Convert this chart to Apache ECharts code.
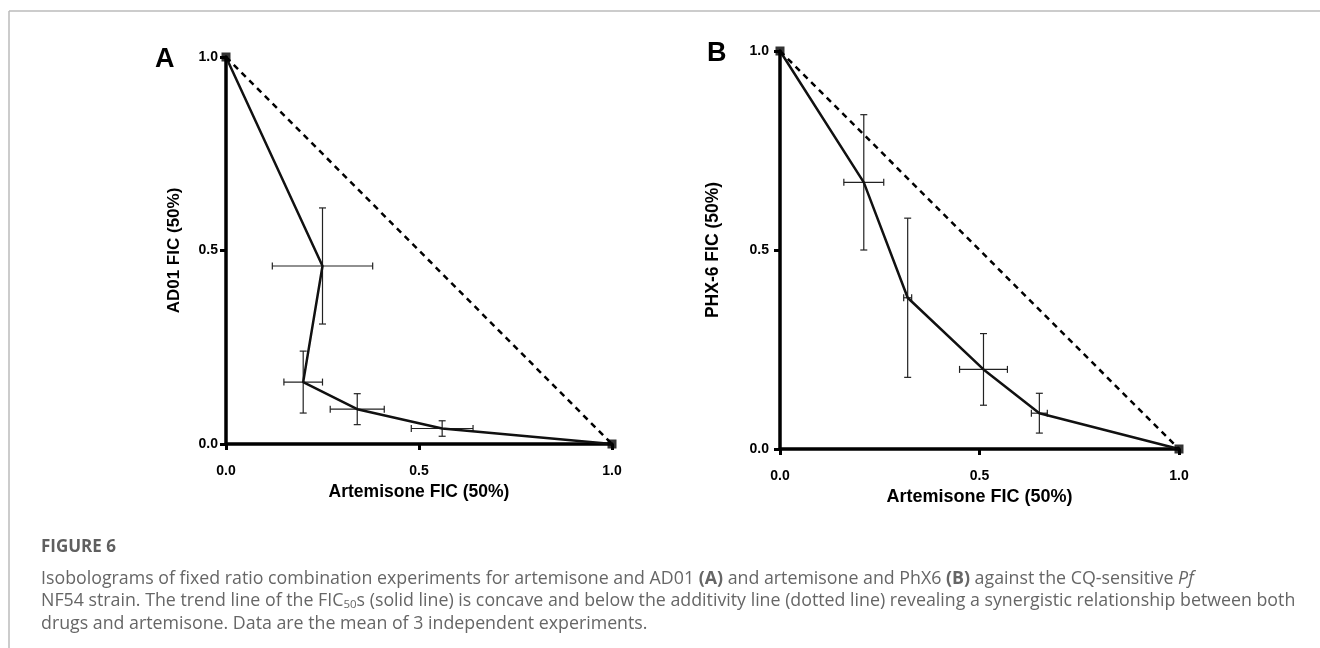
<!DOCTYPE html>
<html>
<head>
<meta charset="utf-8">
<script src="https://cdn.jsdelivr.net/npm/echarts@6/dist/echarts.min.js"></script>
<style>
html, body { margin: 0; padding: 0; background: #fff; }
#main { width: 1320px; height: 648px; }
</style>
</head>
<body>
<div id="main"></div>
<script>
// tick values shared by both panels
var tickVals = [0, 0.5, 1];

// panel A: artemisone + AD01 (mean FIC50, +/- error)
var aX = [0, 0.25, 0.20, 0.34, 0.56, 1];
var aY = [1, 0.46, 0.16, 0.09, 0.04, 0];
var aXErr = [0, 0.13, 0.05, 0.07, 0.08, 0];
var aYErr = [0, 0.15, 0.08, 0.04, 0.02, 0];

// panel B: artemisone + PHX-6
var bX = [0, 0.21, 0.32, 0.51, 0.65, 1];
var bY = [1, 0.67, 0.38, 0.20, 0.09, 0];
var bXErr = [0, 0.05, 0.01, 0.06, 0.02, 0];
var bYErr = [0, 0.17, 0.20, 0.09, 0.05, 0];

// additivity line
var addX = [0, 1];
var addY = [1, 0];

var font = "'Liberation Sans', Arial, sans-serif";
var capFont = "'Open Sans', sans-serif";
var dom = document.getElementById("main");
var myChart = echarts.init(dom);

function pairs(xs, ys) {
    var out = [];
    for (var i = 0; i < xs.length; i++) out.push([xs[i], ys[i]]);
    return out;
}
function errData(xs, ys, ex, ey) {
    var out = [];
    for (var i = 0; i < xs.length; i++) {
        if (ex[i] > 0 || ey[i] > 0) out.push([xs[i], ys[i], ex[i], ey[i]]);
    }
    return out;
}
function ends(xs, ys) {
    var n = xs.length - 1;
    return [[xs[0], ys[0]], [xs[n], ys[n]]];
}

function renderErr(params, api) {
    var x = api.value(0), y = api.value(1), ex = api.value(2), ey = api.value(3);
    var cap = 3.5;
    var st = {stroke: '#222', lineWidth: 1.2};
    var kids = [];
    if (ex > 0) {
        var l = api.coord([x - ex, y]), r = api.coord([x + ex, y]);
        kids.push({type: 'line', shape: {x1: l[0], y1: l[1], x2: r[0], y2: r[1]}, style: st});
        kids.push({type: 'line', shape: {x1: l[0], y1: l[1] - cap, x2: l[0], y2: l[1] + cap}, style: st});
        kids.push({type: 'line', shape: {x1: r[0], y1: r[1] - cap, x2: r[0], y2: r[1] + cap}, style: st});
    }
    if (ey > 0) {
        var t = api.coord([x, y + ey]), b = api.coord([x, y - ey]);
        kids.push({type: 'line', shape: {x1: t[0], y1: t[1], x2: b[0], y2: b[1]}, style: st});
        kids.push({type: 'line', shape: {x1: t[0] - cap, y1: t[1], x2: t[0] + cap, y2: t[1]}, style: st});
        kids.push({type: 'line', shape: {x1: b[0] - cap, y1: b[1], x2: b[0] + cap, y2: b[1]}, style: st});
    }
    return {type: 'group', children: kids};
}

function makeAxis(idx, name, nameGap, nameSize, labelMargin) {
    return {
        type: 'value',
        gridIndex: idx,
        min: tickVals[0], max: tickVals[2], interval: tickVals[1] - tickVals[0],
        name: name,
        nameLocation: 'middle',
        nameGap: nameGap,
        nameTextStyle: {fontFamily: font, fontWeight: 'bold', fontSize: nameSize, color: '#000'},
        axisLine: {show: true, onZero: false, lineStyle: {color: '#000', width: 3.5}},
        axisTick: {show: true, length: 6, lineStyle: {color: '#000', width: 3}},
        axisLabel: {
            margin: labelMargin,
            fontFamily: font, fontWeight: 'bold', fontSize: 14, color: '#000',
            formatter: function (v) { return v.toFixed(1); }
        },
        splitLine: {show: false}
    };
}

function panelSeries(idx, xs, ys, ex, ey) {
    return [
        { // additivity (dashed)
            type: 'line', xAxisIndex: idx, yAxisIndex: idx,
            data: pairs(addX, addY), symbol: 'none', silent: true,
            lineStyle: {color: '#000', width: 2.5, type: [6, 5]}
        },
        {
            type: 'custom', xAxisIndex: idx, yAxisIndex: idx,
            renderItem: renderErr, data: errData(xs, ys, ex, ey), z: 3
        },
        { // trend line
            type: 'line', xAxisIndex: idx, yAxisIndex: idx,
            data: pairs(xs, ys), symbol: 'none',
            lineStyle: {color: '#111', width: 2.5}, z: 4
        },
        {
            type: 'scatter', xAxisIndex: idx, yAxisIndex: idx,
            data: ends(xs, ys), symbol: 'rect', symbolSize: 9, clip: false,
            itemStyle: {color: '#000'}, z: 5
        }
    ];
}

var capSize = 17.8;
function capText(top, txt) {
    return {
        type: 'text', left: 41, top: top,
        style: {
            text: txt,
            fontFamily: capFont, fontSize: capSize, fill: '#666',
            rich: {
                b: {fontFamily: capFont, fontSize: capSize, fontWeight: 'bold', fill: '#666'},
                i: {fontFamily: capFont, fontSize: capSize, fontStyle: 'italic', fill: '#666'},
                s: {fontFamily: capFont, fontSize: 11.5, fill: '#666', padding: [8, 0, 0, 0]}
            }
        }
    };
}

option = {
    backgroundColor: '#fff',
    animation: false,
    title: [
        {text: 'A', left: 150, top: 41, textStyle: {fontFamily: font, fontWeight: 'bold', fontSize: 27, color: '#000'}},
        {text: 'B', left: 702, top: 35, textStyle: {fontFamily: font, fontWeight: 'bold', fontSize: 27, color: '#000'}}
    ],
    grid: [
        {left: 226, top: 57, width: 386, height: 387},
        {left: 780, top: 51, width: 399, height: 398}
    ],
    xAxis: [
        makeAxis(0, 'Artemisone FIC (50%)', 38, 17.5, 20),
        makeAxis(1, 'Artemisone FIC (50%)', 39, 18, 20)
    ],
    yAxis: [
        makeAxis(0, 'AD01 FIC (50%)', 43, 17, 8),
        makeAxis(1, 'PHX-6 FIC (50%)', 58, 17.5, 11)
    ],
    graphic: [
        {type: 'line', shape: {x1: 9, y1: 11, x2: 1320, y2: 11}, style: {stroke: '#bbb', lineWidth: 1.5}},
        {type: 'line', shape: {x1: 9, y1: 11, x2: 9, y2: 648}, style: {stroke: '#bbb', lineWidth: 1.5}},
        {
            type: 'text', left: 41, top: 539,
            style: {text: 'FIGURE 6', fontFamily: capFont, fontSize: 17, fontWeight: 'bold', fill: '#5f5f5f'}
        },
        capText(570, 'Isobolograms of fixed ratio combination experiments for artemisone and AD01 {b|(A)} and artemisone and PhX6 {b|(B)} against the CQ-sensitive {i|Pf}'),
        capText(592, 'NF54 strain. The trend line of the FIC{s|50}s (solid line) is concave and below the additivity line (dotted line) revealing a synergistic relationship between both'),
        capText(615, 'drugs and artemisone. Data are the mean of 3 independent experiments.')
    ],
    series: panelSeries(0, aX, aY, aXErr, aYErr).concat(panelSeries(1, bX, bY, bXErr, bYErr))
};

if (option && typeof option === "object") {
    myChart.setOption(option, true);
}
</script>
</body>
</html>
